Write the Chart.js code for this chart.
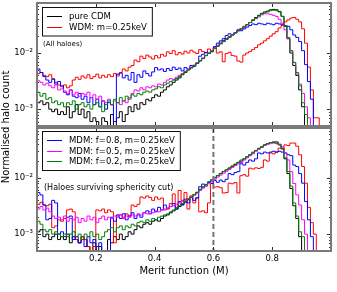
<!DOCTYPE html>
<html>
<head>
<meta charset="utf-8">
<script src="https://cdn.jsdelivr.net/npm/chart.js@4.4.1/dist/chart.umd.min.js"></script>
<style>
  body { margin: 0; background: #fff; }
  #wrap { position: relative; width: 337px; height: 292px; }
  canvas { position: absolute; left: 0; top: 0; }
</style>
</head>
<body>
<div id="wrap">
  <canvas id="topChart" width="337" height="292"></canvas>
  <canvas id="botChart" width="337" height="292"></canvas>
</div>
<script>
// histogram bins of 0.01 in merit function, 0 -> 1
const binWidth = 0.01;
const xTicks = [0.2, 0.4, 0.6, 0.8];
const yTicks = [0.001, 0.01];
const yTickLabels = ["10\u207B\u00B3", "10\u207B\u00B2"];
const cutLine = 0.6;

// top panel: all haloes
const cdmAll = [
  0.0015, 0.0013, 0.0014, 0.0012, 0.0013, 0.0010, 0.0009, 0.0010, 0.0008, 0.0009,
  0.0008, 0.0011, 0.0007, 0.0009, 0.0012, 0.0008, 0.0010, 0.0007, 0.0009, 0.0006,
  0.0007, 0.0006, 0.0005, 0.0007, 0.0006, 0.0004, 0.0008, 0.0005, 0.0007, 0.0009,
  0.0006, 0.0008, 0.0011, 0.0009, 0.0012, 0.0010, 0.0013, 0.0012, 0.0015, 0.0014,
  0.0016, 0.0018, 0.0017, 0.0020, 0.0022, 0.0025, 0.0027, 0.0030, 0.0033, 0.0036,
  0.0041, 0.0045, 0.0050, 0.0055, 0.0060, 0.0066, 0.0073, 0.0080, 0.0090, 0.0100,
  0.0110, 0.0122, 0.0135, 0.0150, 0.0165, 0.0180, 0.0195, 0.021, 0.023, 0.025,
  0.027, 0.029, 0.032, 0.035, 0.039, 0.043, 0.047, 0.051, 0.054, 0.056,
  0.059, 0.060, 0.059, 0.055, 0.045, 0.030, 0.018, 0.010, 0.0060, 0.0040,
  0.0022, 0.0011, 0, 0, 0, 0, 0, 0, 0, 0
];
const wdmAll = [
  0.0046, 0.0043, 0.0045, 0.0040, 0.0038, 0.0041, 0.0035, 0.0030, 0.0027, 0.0025,
  0.0027, 0.0024, 0.0026, 0.0033, 0.0037, 0.0034, 0.0039, 0.0036, 0.0041, 0.0035,
  0.0038, 0.0042, 0.0036, 0.0040, 0.0037, 0.0041, 0.0038, 0.0043, 0.0039, 0.0045,
  0.0052, 0.0048, 0.0056, 0.0060, 0.0075, 0.0070, 0.0088, 0.0080, 0.0092, 0.0085,
  0.0078, 0.0090, 0.0082, 0.0095, 0.0088, 0.0105, 0.0098, 0.0110, 0.0093, 0.0102,
  0.0096, 0.0108, 0.0100, 0.0112, 0.0104, 0.0098, 0.0115, 0.0106, 0.0101, 0.0118,
  0.0110, 0.0128, 0.0100, 0.0105, 0.0070, 0.0098, 0.0103, 0.0090, 0.0088, 0.0072,
  0.0069, 0.0092, 0.0100, 0.0106, 0.0115, 0.0125, 0.0140, 0.0150, 0.0165, 0.0180,
  0.020, 0.022, 0.024, 0.028, 0.031, 0.036, 0.039, 0.042, 0.043, 0.040,
  0.036, 0.027, 0.015, 0.0056, 0.0022, 0.0007, 0.0007, 0, 0, 0
];
const mdm08All = [
  0.0050, 0.0052, 0.0045, 0.0038, 0.0033, 0.0030, 0.0034, 0.0028, 0.0031, 0.0026,
  0.0020, 0.0018, 0.0022, 0.0017, 0.0016, 0.0019, 0.0015, 0.0017, 0.0013, 0.0016,
  0.0012, 0.0015, 0.0011, 0.0014, 0.0010, 0.0013, 0.0012, 0.0006, 0.0042, 0.0044,
  0.0036, 0.0040, 0.0033, 0.0045, 0.0030, 0.0041, 0.0037, 0.0048, 0.0043, 0.0039,
  0.0046, 0.0055, 0.0050, 0.0052, 0.0047, 0.0053, 0.0049, 0.0056, 0.0051, 0.0054,
  0.0048, 0.0055, 0.0052, 0.0060, 0.0058, 0.0065, 0.0088, 0.0095, 0.0102, 0.0098,
  0.0105, 0.0130, 0.0150, 0.0165, 0.0180, 0.0205, 0.022, 0.021, 0.023, 0.026,
  0.025, 0.027, 0.029, 0.031, 0.033, 0.032, 0.034, 0.033, 0.032, 0.034,
  0.033, 0.032, 0.034, 0.033, 0.032, 0.031, 0.030, 0.026, 0.021, 0.019,
  0.016, 0.011, 0.0062, 0.0031, 0.0015, 0, 0, 0, 0, 0
];
const mdm05All = [
  0.0034, 0.0032, 0.0030, 0.0027, 0.0029, 0.0026, 0.0024, 0.0027, 0.0022, 0.0023,
  0.0021, 0.0019, 0.0022, 0.0018, 0.0020, 0.0017, 0.0019, 0.0018, 0.0020, 0.0016,
  0.0018, 0.0015, 0.0017, 0.0014, 0.0013, 0.0015, 0.0012, 0.0014, 0.0013, 0.0012,
  0.0014, 0.0013, 0.0016, 0.0019, 0.0022, 0.0021, 0.0024, 0.0022, 0.0025, 0.0024,
  0.0026, 0.0025, 0.0028, 0.0027, 0.0030, 0.0033, 0.0035, 0.0034, 0.0037, 0.0040,
  0.0043, 0.0047, 0.0051, 0.0056, 0.0061, 0.0067, 0.0074, 0.0082, 0.0091, 0.0100,
  0.0110, 0.0121, 0.0133, 0.0146, 0.0160, 0.0174, 0.019, 0.021, 0.023, 0.025,
  0.027, 0.029, 0.032, 0.035, 0.038, 0.041, 0.044, 0.048, 0.050, 0.050,
  0.049, 0.047, 0.045, 0.040, 0.034, 0.026, 0.018, 0.011, 0.0068, 0.0042,
  0.0028, 0.0019, 0.0011, 0.0007, 0, 0, 0, 0, 0, 0
];
const mdm02All = [
  0.0022, 0.0020, 0.0017, 0.0019, 0.0015, 0.0016, 0.0013, 0.0014, 0.0012, 0.0013,
  0.0011, 0.0013, 0.0012, 0.0014, 0.0010, 0.0012, 0.0013, 0.0011, 0.0012, 0.0010,
  0.0012, 0.0013, 0.0011, 0.0009, 0.0012, 0.0014, 0.0012, 0.0015, 0.0013, 0.0016,
  0.0014, 0.0017, 0.0015, 0.0018, 0.0017, 0.0019, 0.0018, 0.0020, 0.0021, 0.0020,
  0.0022, 0.0023, 0.0025, 0.0024, 0.0027, 0.0029, 0.0031, 0.0033, 0.0035, 0.0038,
  0.0042, 0.0046, 0.0050, 0.0054, 0.0060, 0.0066, 0.0072, 0.0080, 0.0090, 0.0098,
  0.0108, 0.0120, 0.0132, 0.0146, 0.0160, 0.0176, 0.019, 0.021, 0.023, 0.025,
  0.027, 0.030, 0.032, 0.035, 0.038, 0.042, 0.046, 0.050, 0.052, 0.054,
  0.057, 0.058, 0.057, 0.054, 0.045, 0.031, 0.019, 0.011, 0.0068, 0.0045,
  0.0026, 0.0013, 0.0008, 0, 0, 0, 0, 0, 0, 0
];

// bottom panel: haloes surviving the sphericity cut
const cdmCut = [
  0.0013, 0.0011, 0.0012, 0.0009, 0.0010, 0.0008, 0.0009, 0.0010, 0.0008, 0.0009,
  0.0008, 0.0010, 0.0007, 0.0009, 0.0008, 0.0007, 0.0009, 0.0008, 0.0006, 0.0005,
  0.0007, 0.0004, 0.0006, 0.0004, 0.0005, 0.0008, 0.0007, 0.0009, 0.0008, 0.0010,
  0.0008, 0.0009, 0.0011, 0.0010, 0.0012, 0.0014, 0.0013, 0.0015, 0.0016, 0.0015,
  0.0017, 0.0018, 0.0017, 0.0019, 0.0021, 0.0022, 0.0024, 0.0026, 0.0028, 0.0031,
  0.0034, 0.0037, 0.0041, 0.0045, 0.0050, 0.0055, 0.0062, 0.0069, 0.0076, 0.0084,
  0.0092, 0.0101, 0.0110, 0.0120, 0.0130, 0.0140, 0.0150, 0.0162, 0.0175, 0.019,
  0.020, 0.022, 0.024, 0.026, 0.028, 0.031, 0.033, 0.036, 0.039, 0.041,
  0.043, 0.044, 0.044, 0.040, 0.034, 0.022, 0.012, 0.0065, 0.0032, 0.0019,
  0.0009, 0, 0, 0, 0, 0, 0, 0, 0, 0
];
const wdmCut = [
  0.0036, 0.0034, 0.0037, 0.0033, 0.0032, 0.0034, 0.0013, 0.0014, 0.0018, 0.0017,
  0.0019, 0.0027, 0.0028, 0.0025, 0.0008, 0.0007, 0.0009, 0.0008, 0.0006, 0.0005,
  0.0006, 0.0027, 0.0026, 0.0028, 0.0024, 0.0027, 0.0025, 0.0007, 0.0021, 0.0022,
  0.0020, 0.0023, 0.0021, 0.0033, 0.0031, 0.0034, 0.0046, 0.0044, 0.0048, 0.0045,
  0.0040, 0.0046, 0.0042, 0.0044, 0.0027, 0.0028, 0.0035, 0.0052, 0.0030, 0.0060,
  0.0040, 0.0055, 0.0028, 0.0048, 0.0036, 0.0045, 0.0025, 0.0026, 0.0024, 0.0036,
  0.0081, 0.0069, 0.0070, 0.0067, 0.0054, 0.0055, 0.0081, 0.0079, 0.0083, 0.0054,
  0.0110, 0.0115, 0.0108, 0.0150, 0.0145, 0.0152, 0.0148, 0.0155, 0.021, 0.020,
  0.028, 0.027, 0.029, 0.034, 0.033, 0.039, 0.038, 0.042, 0.042, 0.037,
  0.026, 0.016, 0.0081, 0.0030, 0.0016, 0.0010, 0, 0, 0, 0
];
const mdm08Cut = [
  0.0045, 0.0055, 0.0050, 0.0033, 0.0018, 0.0019, 0.0040, 0.0036, 0.0010, 0.0011,
  0.0009, 0.0020, 0.0021, 0.0008, 0.0009, 0.0007, 0.0008, 0.0006, 0.0009, 0.0007,
  0.0008, 0.0006, 0.0007, 0.0004, 0.0003, 0.0004, 0.0020, 0.0017, 0.0022, 0.0019,
  0.0023, 0.0018, 0.0021, 0.0024, 0.0019, 0.0022, 0.0020, 0.0024, 0.0026, 0.0023,
  0.0028, 0.0025, 0.0030, 0.0027, 0.0033, 0.0029, 0.0031, 0.0035, 0.0028, 0.0038,
  0.0033, 0.0042, 0.0036, 0.0045, 0.0040, 0.0044, 0.0070, 0.0078, 0.0072, 0.0085,
  0.0080, 0.0090, 0.0084, 0.0092, 0.0086, 0.0095, 0.0120, 0.0115, 0.0125, 0.0130,
  0.018, 0.017, 0.019, 0.021, 0.020, 0.022, 0.028, 0.027, 0.029, 0.028,
  0.029, 0.030, 0.029, 0.030, 0.029, 0.028, 0.026, 0.025, 0.017, 0.016,
  0.012, 0.0081, 0.0038, 0.0018, 0.0009, 0, 0, 0, 0, 0
];
const mdm05Cut = [
  0.0030, 0.0028, 0.0031, 0.0027, 0.0029, 0.0025, 0.0021, 0.0019, 0.0020, 0.0018,
  0.0021, 0.0017, 0.0019, 0.0018, 0.0020, 0.0016, 0.0019, 0.0017, 0.0021, 0.0018,
  0.0020, 0.0016, 0.0019, 0.0021, 0.0018, 0.0020, 0.0019, 0.0021, 0.0020, 0.0022,
  0.0019, 0.0021, 0.0020, 0.0022, 0.0021, 0.0023, 0.0022, 0.0024, 0.0023, 0.0025,
  0.0024, 0.0026, 0.0025, 0.0027, 0.0028, 0.0029, 0.0031, 0.0032, 0.0034, 0.0036,
  0.0038, 0.0040, 0.0043, 0.0046, 0.0050, 0.0054, 0.0060, 0.0066, 0.0072, 0.0079,
  0.0087, 0.0095, 0.0104, 0.0113, 0.0122, 0.0132, 0.0143, 0.0155, 0.0167, 0.018,
  0.019, 0.021, 0.023, 0.025, 0.027, 0.030, 0.033, 0.035, 0.038, 0.040,
  0.041, 0.042, 0.041, 0.039, 0.036, 0.028, 0.021, 0.013, 0.0080, 0.0050,
  0.0033, 0.0018, 0.0010, 0, 0, 0, 0, 0, 0, 0
];
const mdm02Cut = [
  0.0019, 0.0017, 0.0015, 0.0012, 0.0011, 0.0012, 0.0010, 0.0011, 0.0010, 0.0009,
  0.0010, 0.0009, 0.0010, 0.0011, 0.0009, 0.0010, 0.0008, 0.0010, 0.0009, 0.0011,
  0.0009, 0.0010, 0.0008, 0.0009, 0.0011, 0.0012, 0.0013, 0.0011, 0.0013, 0.0014,
  0.0012, 0.0014, 0.0013, 0.0015, 0.0014, 0.0016, 0.0017, 0.0016, 0.0018, 0.0017,
  0.0019, 0.0018, 0.0020, 0.0021, 0.0022, 0.0023, 0.0025, 0.0027, 0.0029, 0.0032,
  0.0035, 0.0038, 0.0042, 0.0046, 0.0051, 0.0056, 0.0063, 0.0070, 0.0077, 0.0085,
  0.0093, 0.0102, 0.0111, 0.0121, 0.0131, 0.0141, 0.0152, 0.0164, 0.0177, 0.019,
  0.021, 0.022, 0.024, 0.026, 0.029, 0.031, 0.034, 0.036, 0.039, 0.041,
  0.043, 0.043, 0.042, 0.039, 0.033, 0.023, 0.013, 0.0072, 0.0036, 0.0021,
  0.0011, 0.0009, 0, 0, 0, 0, 0, 0, 0, 0
];

const colors = { cdm: "#000000", wdm: "#ff0000", m08: "#0000ff", m05: "#ff00ff", m02: "#008000" };
const font = '"DejaVu Sans", "Bitstream Vera Sans", sans-serif';
const floorValue = 1e-6; // empty bin, drawn off the bottom of the axes

// turn bin counts into step points; trailing empty bins drop to the floor once
const toSteps = (vals) => {
  let last = vals.length;
  while (last > 0 && vals[last - 1] === 0) last--;
  const pts = [];
  for (let i = 0; i < last; i++) pts.push({ x: i * binWidth, y: vals[i] });
  pts.push({ x: last * binWidth, y: last < vals.length ? floorValue : vals[last - 1] });
  return pts;
};

const makeSet = (vals, color, order) => ({
  data: toSteps(vals),
  borderColor: color,
  borderWidth: 1,
  stepped: "after",
  pointRadius: 0,
  fill: false,
  order: order,
});

const line = (ctx, x1, y1, x2, y2) => {
  ctx.beginPath();
  ctx.moveTo(x1, y1);
  ctx.lineTo(x2, y2);
  ctx.stroke();
};

// frame, inward ticks, legend box, notes
const decor = {
  id: "decor",
  afterDatasetsDraw(chart, args, opts) {
    const { ctx, chartArea: a, scales } = chart;
    const x = scales.x, y = scales.y;
    ctx.save();

    if (opts.cut) {
      const px = x.getPixelForValue(opts.cut);
      ctx.strokeStyle = "#777";
      ctx.lineWidth = 2;
      ctx.setLineDash([5, 3]);
      line(ctx, px, a.top, px, a.bottom);
      ctx.setLineDash([]);
    }

    ctx.strokeStyle = "#333";
    ctx.lineWidth = 1;
    xTicks.forEach((v) => {
      const px = Math.round(x.getPixelForValue(v)) + 0.5;
      line(ctx, px, a.bottom, px, a.bottom - 4);
      line(ctx, px, a.top, px, a.top + 4);
    });
    for (let d = -4; d <= -1; d++) {
      for (let m = 1; m <= 9; m++) {
        const v = m * Math.pow(10, d);
        if (v < y.min || v > y.max) continue;
        const py = Math.round(y.getPixelForValue(v)) + 0.5;
        const len = m === 1 ? 4 : 2;
        line(ctx, a.left, py, a.left + len, py);
        line(ctx, a.right, py, a.right - len, py);
      }
    }

    ctx.strokeStyle = "#7a7a7a";
    ctx.lineWidth = 2;
    ctx.strokeRect(a.left, a.top, a.right - a.left, a.bottom - a.top);

    // legend
    const lg = opts.legend;
    ctx.font = "8.5px " + font;
    const tw = Math.max(...lg.items.map((it) => ctx.measureText(it.label).width));
    const h = 18 + (lg.items.length - 1) * 10.5;
    ctx.fillStyle = "#fff";
    ctx.fillRect(lg.left, lg.top, tw + 32, h);
    ctx.strokeStyle = "#111";
    ctx.lineWidth = 1;
    ctx.strokeRect(lg.left + 0.5, lg.top + 0.5, tw + 32, h);
    ctx.textBaseline = "middle";
    lg.items.forEach((it, i) => {
      const ry = Math.round(lg.top + 9 + i * 10.5) + 0.5;
      ctx.strokeStyle = it.color;
      line(ctx, lg.left + 5, ry, lg.left + 20, ry);
      ctx.fillStyle = "#000";
      ctx.fillText(it.label, lg.left + 27, ry);
    });

    ctx.font = opts.note.size + "px " + font;
    ctx.fillStyle = "#000";
    ctx.fillText(opts.note.text, opts.note.x, opts.note.y);

    if (opts.yTitle) {
      ctx.translate(6, 127);
      ctx.rotate(-Math.PI / 2);
      ctx.font = "10px " + font;
      ctx.textAlign = "center";
      ctx.fillText(opts.yTitle, 0, 0);
    }
    ctx.restore();
  },
};

const yScale = {
  type: "logarithmic",
  min: 0.0005,
  max: 0.078,
  afterBuildTicks: (s) => { s.ticks = yTicks.map((v) => ({ value: v })); },
  afterFit: (s) => { s.width = 37; s.paddingTop = 0; s.paddingBottom = 0; },
  grid: { display: false, drawTicks: false },
  border: { display: false },
  ticks: {
    padding: 4,
    color: "#000",
    font: { family: font, size: 8.5 },
    callback: (v) => yTickLabels[yTicks.indexOf(v)],
  },
};

const makeChart = (id, sets, padTop, padBottom, showX, decorOpts) =>
  new Chart(document.getElementById(id), {
    type: "line",
    data: {
      datasets: [
        makeSet(sets[0], colors.cdm, 4),
        makeSet(sets[1], colors.wdm, 3),
        makeSet(sets[2], colors.m08, 2),
        makeSet(sets[3], colors.m05, 1),
        makeSet(sets[4], colors.m02, 0),
      ],
    },
    options: {
      responsive: false,
      animation: false,
      events: [],
      layout: { padding: { top: padTop, bottom: padBottom, left: 0, right: 6 } },
      plugins: { legend: { display: false }, tooltip: { enabled: false }, decor: decorOpts },
      scales: {
        x: {
          type: "linear",
          min: 0,
          max: 1,
          display: showX,
          afterBuildTicks: (s) => { s.ticks = xTicks.map((v) => ({ value: v })); },
          afterFit: (s) => {
            s.height = showX ? 41 : 0;
            s.paddingLeft = 0;
            s.paddingRight = 0;
          },
          grid: { display: false, drawTicks: false },
          border: { display: false },
          ticks: {
            padding: 3,
            color: "#000",
            font: { family: font, size: 8.5 },
            callback: (v) => v.toFixed(1),
          },
          title: {
            display: true,
            text: "Merit function (M)",
            color: "#000",
            font: { family: font, size: 10 },
            padding: { top: 0, bottom: 15 },
          },
        },
        y: yScale,
      },
    },
    plugins: [decor],
  });

makeChart("topChart", [cdmAll, wdmAll, mdm08All, mdm05All, mdm02All], 3, 166, false, {
  legend: {
    left: 42, top: 7,
    items: [
      { label: "pure CDM", color: colors.cdm },
      { label: "WDM: m=0.25keV", color: colors.wdm },
    ],
  },
  note: { text: "(All haloes)", size: 7, x: 43, y: 44 },
  yTitle: "Normalised halo count",
});

makeChart("botChart", [cdmCut, wdmCut, mdm08Cut, mdm05Cut, mdm02Cut], 128, 0, true, {
  legend: {
    left: 42, top: 131,
    items: [
      { label: "MDM: f=0.8, m=0.25keV", color: colors.m08 },
      { label: "MDM: f=0.5, m=0.25keV", color: colors.m05 },
      { label: "MDM: f=0.2, m=0.25keV", color: colors.m02 },
    ],
  },
  note: { text: "(Haloes surviving sphericity cut)", size: 8, x: 44, y: 188 },
  cut: cutLine,
});
</script>
</body>
</html>
